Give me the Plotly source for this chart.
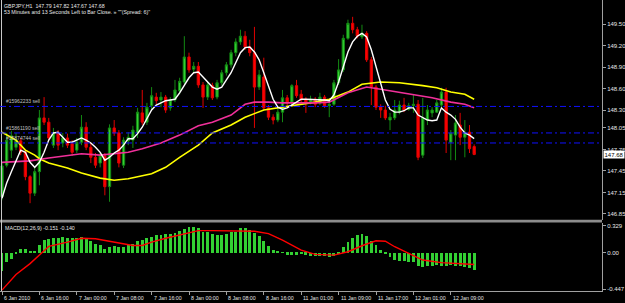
import plotly.graph_objects as go

# ---------------- data ----------------
symbol = "GBPJPY,H1"
countdown_text = "53 Minutes and 13 Seconds Left to Bar Close. \u00bb \"\"(Spread: 6)\""
macd_label = "MACD(12,26,9) -0.151 -0.140"

opens = [147.09,147.53,147.74,147.78,147.87,147.71,147.37,147.14,147.44,148.19,
         148.13,147.81,147.98,147.84,147.91,147.83,147.74,147.85,148.06,147.78,
         147.64,147.56,147.66,147.23,148.05,147.98,147.53,147.87,147.88,147.98,
         148.26,148.13,148.36,148.48,148.44,148.48,148.33,148.44,148.57,148.69,
         149.04,148.87,148.91,148.65,148.48,148.64,148.48,148.68,148.82,148.93,
         149.10,149.25,149.33,149.18,149.10,148.62,148.76,148.33,148.20,148.16,
         148.27,148.47,148.41,148.64,148.52,148.45,148.41,148.45,148.40,148.48,
         148.36,148.38,148.68,148.86,149.30,149.51,149.42,149.32,149.37,149.00,
         148.62,148.34,148.30,148.16,148.19,148.27,148.37,148.31,148.36,148.38,
         147.67,148.16,148.26,148.27,148.37,148.55,147.85,147.95,148.09,147.92,
         147.99,147.79]
highs = [147.56,147.98,148.01,147.98,147.91,147.74,147.39,147.49,148.30,148.48,
         148.19,148.05,148.02,147.98,147.97,147.88,147.91,148.23,148.13,147.84,
         147.70,147.71,147.70,148.10,148.16,148.02,147.92,147.99,148.08,148.33,
         148.58,148.40,148.62,148.54,148.55,148.51,148.48,148.72,148.75,149.33,
         149.10,148.97,148.97,148.69,148.69,148.68,148.72,148.86,148.97,149.14,
         149.30,149.42,149.40,149.28,149.46,148.86,149.03,148.37,148.24,148.33,
         148.58,148.51,148.66,148.72,148.58,148.48,148.50,148.48,148.54,148.51,
         148.44,148.72,149.01,149.35,149.56,149.60,149.46,149.49,149.40,149.04,
         148.65,148.38,148.36,148.26,148.44,148.43,148.47,148.40,148.51,148.44,
         148.47,148.37,148.34,148.44,148.61,148.61,148.02,148.23,148.26,148.16,
         148.09,147.82]
lows = [147.04,147.50,147.63,147.74,147.67,147.32,147.00,147.10,147.25,148.09,
        147.88,147.77,147.74,147.78,147.77,147.66,147.70,147.81,147.74,147.56,
        147.49,147.50,147.11,147.02,147.94,147.50,147.49,147.81,147.77,147.91,
        148.09,148.09,148.31,148.38,148.34,148.26,148.29,148.41,148.52,148.66,
        148.82,148.83,148.61,148.33,148.44,148.44,148.45,148.64,148.78,148.89,
        149.05,149.21,149.14,149.05,148.05,148.58,148.30,148.16,148.10,148.13,
        148.13,148.36,148.37,148.47,148.41,148.26,148.38,148.34,148.37,148.33,
        148.20,148.36,148.65,148.83,149.28,149.37,149.30,149.29,148.97,148.37,
        148.30,148.19,148.16,148.02,148.16,148.24,148.27,148.29,148.26,147.60,
        147.63,148.09,148.20,148.26,148.34,147.70,147.60,147.60,147.81,147.64,
        147.70,147.67]
closes = [147.52,147.88,147.94,147.88,147.71,147.37,147.14,147.44,148.19,148.13,
          147.91,147.98,147.81,147.91,147.81,147.71,147.85,148.06,147.78,147.64,
          147.53,147.66,147.23,148.05,147.98,147.56,147.88,147.92,148.02,148.27,
          148.13,148.34,148.50,148.43,148.48,148.30,148.44,148.58,148.70,149.04,
          148.86,148.91,148.65,148.48,148.65,148.47,148.68,148.82,148.93,149.10,
          149.25,149.33,149.18,149.10,148.62,148.79,148.33,148.20,148.16,148.27,
          148.47,148.40,148.64,148.50,148.44,148.40,148.45,148.38,148.48,148.36,
          148.38,148.68,148.86,149.30,149.51,149.42,149.33,149.37,149.00,148.62,
          148.34,148.30,148.19,148.20,148.30,148.37,148.30,148.36,148.38,147.64,
          148.19,148.30,148.30,148.40,148.55,147.88,147.98,148.12,147.92,147.99,
          147.76,147.68]

white_ma = [147.07,147.28,147.44,147.60,147.74,147.71,147.57,147.50,147.57,147.71,
            147.88,147.98,147.99,147.92,147.85,147.85,147.88,147.91,147.88,147.84,
            147.78,147.71,147.60,147.64,147.70,147.74,147.81,147.90,147.90,147.97,
            148.06,148.19,148.30,148.37,148.40,148.43,148.44,148.45,148.54,148.65,
            148.75,148.82,148.83,148.76,148.69,148.62,148.59,148.62,148.72,148.82,
            148.96,149.10,149.17,149.18,149.11,149.00,148.82,148.62,148.45,148.34,
            148.31,148.33,148.37,148.41,148.45,148.45,148.45,148.45,148.45,148.44,
            148.43,148.51,148.69,148.90,149.11,149.25,149.33,149.37,149.32,149.14,
            148.90,148.65,148.44,148.31,148.27,148.27,148.29,148.33,148.33,148.23,
            148.19,148.16,148.15,148.16,148.33,148.27,148.23,148.17,148.06,147.98,
            147.95,147.90]

pink_bars = [0,6,10,14,17,21,25,27,30,34,38,42,45,49,52,54,57,60,67,70,74,78,81,85,88,92,96,99,101]
pink_ma = [147.57,147.59,147.63,147.67,147.69,147.67,147.70,147.71,147.76,147.84,147.95,148.08,
           148.13,148.23,148.38,148.41,148.41,148.40,148.40,148.41,148.54,148.62,148.59,148.55,
           148.51,148.47,148.41,148.38,148.33]

yellow_bars = [0,3,5,7,8,10,14,17,21,24,27,30,32,35,38,42,45,49,52,56,60,63,67,70,74,77,81,85,88,90,93,96,99,101]
yellow_ma = [147.99,147.88,147.74,147.67,147.62,147.56,147.49,147.42,147.35,147.32,147.34,147.38,
             147.41,147.50,147.64,147.81,147.98,148.09,148.20,148.30,148.34,148.36,148.41,148.45,
             148.55,148.66,148.69,148.68,148.66,148.64,148.61,148.55,148.52,148.45]

macd_hist = [-0.218,-0.117,-0.069,-0.010,0.045,0.045,0.028,0.024,0.093,0.157,
             0.173,0.182,0.185,0.194,0.185,0.178,0.185,0.194,0.173,0.145,
             0.105,0.093,0.052,0.073,0.085,0.076,0.076,0.093,0.105,0.145,
             0.157,0.185,0.197,0.218,0.218,0.226,0.234,0.246,0.266,0.294,
             0.315,0.311,0.299,0.258,0.258,0.230,0.221,0.221,0.234,0.250,
             0.258,0.299,0.299,0.282,0.242,0.209,0.149,0.081,0.040,0.012,
             0.006,-0.024,-0.024,-0.020,-0.018,-0.024,-0.033,-0.040,-0.040,-0.033,
             -0.052,-0.033,-0.012,0.069,0.137,0.182,0.218,0.230,0.209,0.149,
             0.097,0.040,-0.006,-0.052,-0.081,-0.093,-0.100,-0.105,-0.113,-0.161,
             -0.166,-0.161,-0.154,-0.153,-0.155,-0.154,-0.152,-0.154,-0.161,-0.173,
             -0.185,-0.214]

signal_bars = [0,3,6,9,10,14,17,20,24,28,30,32,35,39,42,45,50,54,57,60,64,67,71,74,77,80,82,84,87,90,94,97,101]
signal_vals = [-0.46,-0.27,-0.137,0.024,0.073,0.125,0.173,0.166,0.125,0.085,0.085,0.125,0.173,
               0.226,0.266,0.266,0.258,0.258,0.230,0.149,0.028,-0.024,-0.033,0.008,0.081,0.142,
               0.137,0.069,-0.012,-0.093,-0.125,-0.137,-0.148]

time_tick_bars = [0,8,16,24,32,40,48,56,64,72,80,88,96]
time_tick_labels = ["6 Jan 2010","6 Jan 16:00","7 Jan 00:00","7 Jan 08:00","7 Jan 16:00",
                    "8 Jan 00:00","8 Jan 08:00","8 Jan 16:00","11 Jan 01:00","11 Jan 09:00",
                    "11 Jan 17:00","12 Jan 01:00","12 Jan 09:00"]
price_ticks = [149.50,149.20,148.90,148.60,148.30,148.05,147.75,147.45,147.15,146.85]
macd_ticks = [0.329, 0.0, -0.447]
macd_tick_text = ["0.329", "0.00", "-0.447"]

order_labels = ["#15962233 sell", "#15861190 sell", "#15874744 sell"]
order_prices = [148.35, 147.98, 147.84]

# ---------------- geometry / style ----------------
W, H = 625, 303
PLOT_R = 602            # right axis line (px)
MAIN_BOT = 220          # bottom of price pane (px)
MACD_TOP, MACD_BOT = 222.5, 291
BAR_PX, BAR0_PX = 4.675, 2.0
PX_PRICE = 0.013953
TOP_PRICE = 149.835
MACD_RANGE = [-0.471, 0.365]

FONT = "Liberation Sans, Arial, sans-serif"
TXT = "#e6e6e6"
AXC = "#a0a0a0"
SMALL = 5.3

def py(px):  # pixel y -> paper y
    return 1 - px / H

idx = list(range(len(closes)))
xr = [(0 - BAR0_PX) / BAR_PX, (PLOT_R - BAR0_PX) / BAR_PX]

fig = go.Figure()
fig.add_trace(go.Candlestick(
    x=idx, open=opens, high=highs, low=lows, close=closes,
    increasing=dict(line=dict(color="#138a13", width=1), fillcolor="#34d034"),
    decreasing=dict(line=dict(color="#e00000", width=1), fillcolor="#ff0000"),
    whiskerwidth=0, xaxis="x", yaxis="y", hoverinfo="skip"))
fig.add_trace(go.Scatter(x=yellow_bars, y=yellow_ma, mode="lines",
                         line=dict(color="#ffff00", width=1.6), xaxis="x", yaxis="y"))
fig.add_trace(go.Scatter(x=pink_bars, y=pink_ma, mode="lines",
                         line=dict(color="#f0309a", width=1.6), xaxis="x", yaxis="y"))
fig.add_trace(go.Scatter(x=idx, y=white_ma, mode="lines",
                         line=dict(color="#ffffff", width=1.4), xaxis="x", yaxis="y"))

fig.add_trace(go.Bar(x=idx, y=macd_hist, width=0.62, marker=dict(color="#33d033", line=dict(width=0)),
                     xaxis="x2", yaxis="y2"))
fig.add_trace(go.Scatter(x=signal_bars, y=signal_vals, mode="lines",
                         line=dict(color="#ff0000", width=1.4), xaxis="x2", yaxis="y2"))

main_dom = [py(MAIN_BOT), 1]
macd_dom = [py(MACD_BOT), py(MACD_TOP)]
xdom = [0, PLOT_R / W]

fig.update_layout(
    width=W, height=H, margin=dict(l=0, r=0, t=0, b=0),
    paper_bgcolor="#000000", plot_bgcolor="#000000", showlegend=False,
    hovermode=False, bargap=0,
    font=dict(family=FONT, size=6, color=TXT),
    xaxis=dict(domain=xdom, range=xr, anchor="y", showgrid=False, zeroline=False,
               showticklabels=False, ticks="", showline=False, rangeslider=dict(visible=False)),
    yaxis=dict(domain=main_dom, range=[TOP_PRICE - MAIN_BOT * PX_PRICE, TOP_PRICE], side="right",
               anchor="x", tickvals=price_ticks, ticktext=[f"{v:.2f}" for v in price_ticks],
               ticks="outside", ticklen=3, tickcolor=AXC, showgrid=False, zeroline=False,
               showline=True, linecolor=AXC, linewidth=1,
               tickfont=dict(family=FONT, size=6, color=TXT)),
    xaxis2=dict(domain=xdom, range=xr, anchor="y2", showgrid=False, zeroline=False,
                tickvals=time_tick_bars, ticks="outside", ticklen=3, tickcolor=AXC,
                showticklabels=False, showline=True, linecolor=AXC, linewidth=1),
    yaxis2=dict(domain=macd_dom, range=MACD_RANGE, side="right", anchor="x2",
                tickvals=macd_ticks, ticktext=macd_tick_text, ticks="outside", ticklen=3,
                tickcolor=AXC, showgrid=False, zeroline=False, showline=True,
                linecolor=AXC, linewidth=1, tickfont=dict(family=FONT, size=6, color=TXT)),
)

shapes = []
# pane separator
shapes.append(dict(type="rect", xref="paper", yref="paper", x0=0, x1=PLOT_R / W,
                   y0=py(222.5), y1=py(219.8), fillcolor="#8c8c8c", line=dict(width=0)))
# left vertical line
shapes.append(dict(type="line", xref="paper", yref="paper", x0=1.5 / W, x1=1.5 / W,
                   y0=py(MACD_BOT), y1=1, line=dict(color="#c8c8c8", width=1)))
# order lines
for p in order_prices:
    shapes.append(dict(type="line", xref="x domain", yref="y", x0=0, x1=1, y0=p, y1=p,
                       line=dict(color="#1010ff", width=1, dash="6px,3px,2px,3px")))
fig.update_layout(shapes=shapes)

ann = []
ann.append(dict(xref="paper", yref="paper", x=3 / W, y=py(5.5), xanchor="left", yanchor="middle",
                text=f"{symbol}  {opens[-1]:.2f} {highs[-1]:.2f} {lows[-1]:.2f} {closes[-1]:.2f}",
                showarrow=False, font=dict(family=FONT, size=SMALL, color=TXT), borderpad=0))
ann.append(dict(xref="paper", yref="paper", x=3 / W, y=py(12), xanchor="left", yanchor="middle",
                text=countdown_text, showarrow=False,
                font=dict(family=FONT, size=SMALL, color=TXT), borderpad=0))
ann.append(dict(xref="paper", yref="paper", x=4 / W, y=py(228), xanchor="left", yanchor="middle",
                text=macd_label, showarrow=False,
                font=dict(family=FONT, size=SMALL, color=TXT), borderpad=0))
for lab, p in zip(order_labels, order_prices):
    ann.append(dict(xref="paper", yref="y", x=5 / W, y=p, xanchor="left", yanchor="bottom",
                    yshift=1, text=lab, showarrow=False,
                    font=dict(family=FONT, size=5, color="#c0c0c0"), borderpad=0))
for b, lab in zip(time_tick_bars, time_tick_labels):
    ann.append(dict(xref="x2", yref="paper", x=b, y=py(297.5), xanchor="left", yanchor="middle",
                    xshift=1, text=lab, showarrow=False,
                    font=dict(family=FONT, size=SMALL, color=TXT), borderpad=0))
# current price label
ann.append(dict(xref="paper", yref="y", x=(PLOT_R + 1) / W, y=closes[-1], xanchor="left",
                yanchor="middle", text=f"{closes[-1]:.2f}", showarrow=False,
                bgcolor="#ffffff", font=dict(family=FONT, size=6, color="#000000"),
                borderpad=0.5))
fig.update_layout(annotations=ann)

fig.write_html("out.html")
